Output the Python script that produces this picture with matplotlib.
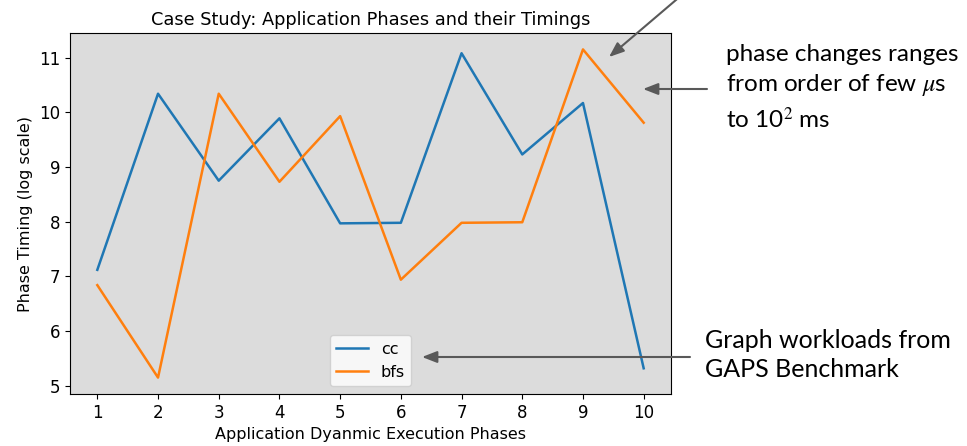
import matplotlib
matplotlib.use("Agg")
import matplotlib.pyplot as plt
from matplotlib.patches import FancyArrowPatch

plt.rcParams["mathtext.fontset"] = "stix"

phases = [1, 2, 3, 4, 5, 6, 7, 8, 9, 10]
cc = [7.12, 10.34, 8.75, 9.89, 7.97, 7.98, 11.08, 9.23, 10.17, 5.32]
bfs = [6.84, 5.15, 10.34, 8.73, 9.93, 6.94, 7.98, 7.99, 11.15, 9.81]

title = "Case Study: Application Phases and their Timings"
xlabel = "Application Dyanmic Execution Phases"
ylabel = "Phase Timing (log scale)"
note1 = "phase changes ranges\nfrom order of few $\\mu$s\nto 10$^2$ ms"
note2 = "Graph workloads from\nGAPS Benchmark"

W, H = 967, 446
fig = plt.figure(figsize=(W / 100, H / 100), dpi=100)
ax = fig.add_axes([70 / W, 1 - 394 / H, (671 - 70) / W, (394 - 33) / H])
ax.set_facecolor("#dcdcdc")
ax.plot(phases, cc, color="#1f77b4", lw=1.8, label="cc")
ax.plot(phases, bfs, color="#ff7f0e", lw=1.8, label="bfs")
ax.set_xticks(phases)
ax.tick_params(labelsize=12)
ax.set_title(title, fontsize=12.8)
ax.set_xlabel(xlabel, fontsize=11.5)
ax.set_ylabel(ylabel, fontsize=11.5)
ax.legend(loc="lower center", fontsize=11.5)

arrow_kw = dict(arrowstyle="-|>,head_length=0.9,head_width=0.35", color="#595959",
                lw=1.5, mutation_scale=10)
for start, end in [((683, 452), (609, 389)), ((707, 357), (643, 357)), ((690, 89), (422, 89))]:
    fig.add_artist(FancyArrowPatch(
        posA=(start[0] / W, start[1] / H), posB=(end[0] / W, end[1] / H),
        transform=fig.transFigure, shrinkA=0, shrinkB=0, **arrow_kw))

fig.text(726 / W, 1 - 88 / H, note1, fontsize=17.5, family=["Lato", "DejaVu Sans"],
         va="center", ha="left", linespacing=1.38)
fig.text(705 / W, 1 - 355 / H, note2, fontsize=18, family=["Lato", "DejaVu Sans"],
         va="center", ha="left", linespacing=1.3)

fig.savefig("out.png", dpi=100)
